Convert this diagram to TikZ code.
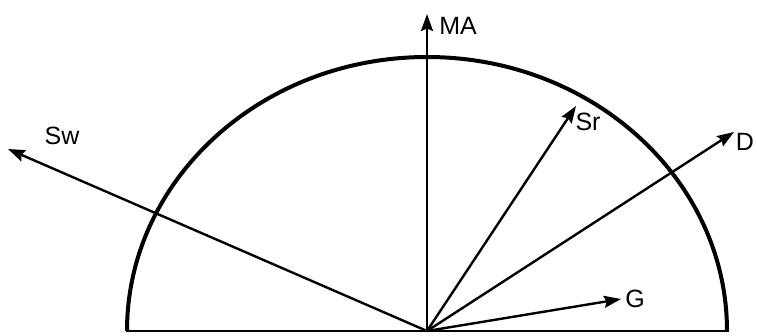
\documentclass[tikz,border=0pt]{standalone}
\usepackage{fontspec}
\setmainfont{Liberation Sans}
\usetikzlibrary{arrows.meta, positioning}

\begin{document}
\begin{tikzpicture}[
    x=1pt, y=-1pt,
    vec/.style={-{Stealth[length=17pt, width=12pt, inset=2.5pt]}, line width=2.4pt},
    rim/.style={line width=4pt},
    lbl/.style={font=\fontsize{25}{25}\selectfont, inner sep=0pt}]

    \useasboundingbox (0,0) rectangle (757,335);

    % Define points
    \coordinate (O) at (427,331);
    \coordinate (ma) at (427,14);
    \coordinate (sr) at (576,106);
    \coordinate (d) at (734,132);
    \coordinate (g) at (621,299);
    \coordinate (sw) at (8,149);

    % Draw half circle and ground
    \draw[rim] (127,331) arc[start angle=180, end angle=360, x radius=300, y radius=274];
    \draw[line width=2.6pt] (126,331) -- (729,331);

    % Draw vectors
    \draw[vec] (O) -- (ma);
    \draw[vec] (O) -- (sr);
    \draw[vec] (O) -- (d);
    \draw[vec] (O) -- (g);
    \draw[vec] (O) -- (sw);

    % Labels
    \node[lbl] (lma) at (458,26) {MA};
    \node[lbl] (lsr) at (588,122) {Sr};
    \node[lbl] (ld) at (745,142) {D};
    \node[lbl] (lg) at (635,299) {G};
    \node[lbl] (lsw) at (62,136) {Sw};
\end{tikzpicture}
\end{document}
